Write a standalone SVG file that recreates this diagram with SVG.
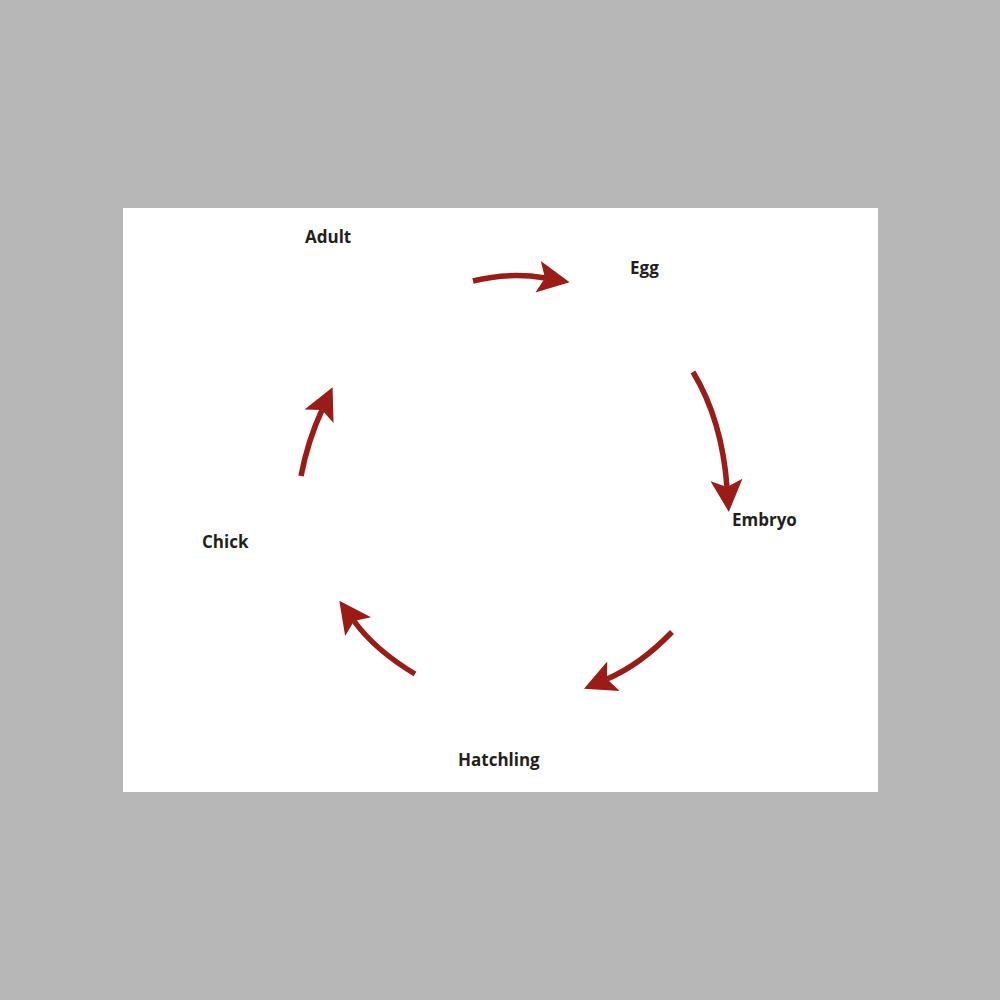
<svg xmlns="http://www.w3.org/2000/svg" width="1000" height="1000" viewBox="0 0 1000 1000">
<defs>
<style>
.lbl{font-family:"Open Sans","Liberation Sans",sans-serif;font-weight:bold;font-size:17px;fill:#231f20}
.arr{fill:none;stroke:#9b1b17;stroke-width:5.5;marker-end:url(#head)}
</style>
<marker id="head" markerUnits="userSpaceOnUse" markerWidth="34" markerHeight="34" refX="7" refY="16" orient="auto" overflow="visible">
<path d="M0,0 L32,16 L0,32 L7,16 Z" fill="#9b1b17"/>
</marker>
</defs>
<rect x="0" y="0" width="1000" height="1000" fill="#b7b7b7"/>
<rect x="123" y="208" width="755" height="584" fill="#ffffff"/>
<g id="connectors">
<path class="arr" d="M473,281 Q510,272 545,278"/>
<path class="arr" d="M693,372 Q722,420 727,487"/>
<path class="arr" d="M672,632 Q640,665 607,679"/>
<path class="arr" d="M415,674 Q375,650 354,621"/>
<path class="arr" d="M301,476 Q308,440 322,410"/>
</g>
<g id="adult"><text class="lbl" x="305" y="243">Adult</text></g>
<g id="egg"><text class="lbl" x="630" y="274">Egg</text></g>
<g id="embryo"><text class="lbl" x="732" y="526">Embryo</text></g>
<g id="hatchling"><text class="lbl" x="458" y="766">Hatchling</text></g>
<g id="chick"><text class="lbl" x="202" y="548">Chick</text></g>
</svg>
